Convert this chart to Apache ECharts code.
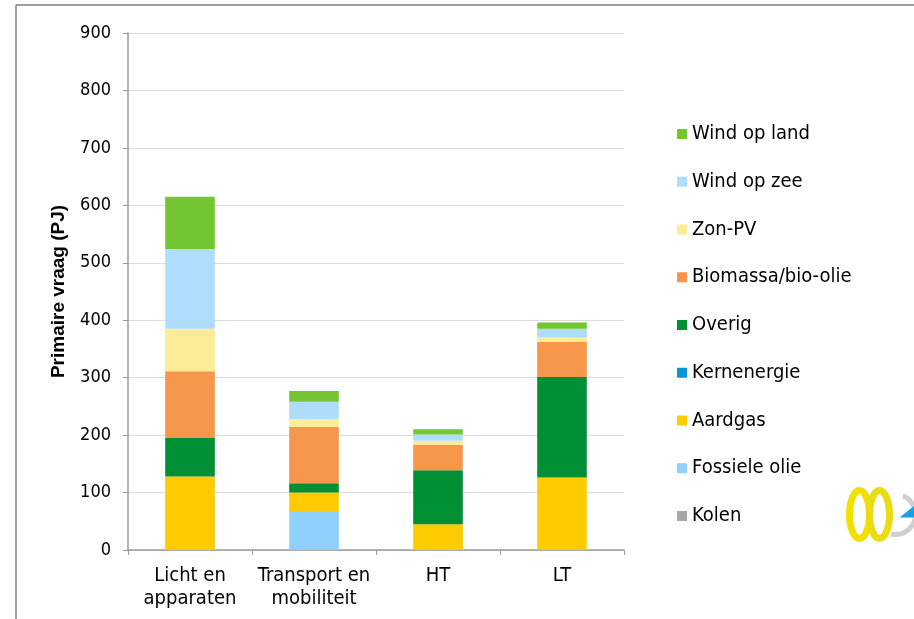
<!DOCTYPE html>
<html>
<head>
<meta charset="utf-8">
<style>
  html, body { margin: 0; padding: 0; background: #ffffff; }
  #chart { width: 914px; height: 619px; }
</style>
<script src="https://cdn.jsdelivr.net/npm/echarts@6/dist/echarts.min.js"></script>
</head>
<body>
<div id="chart"></div>
<script>
// Primaire vraag (PJ) per toepassing, gestapeld per energiedrager
const categories = ['Licht en\napparaten', 'Transport en\nmobiliteit', 'HT', 'LT'];
const yTicks = [0, 100, 200, 300, 400, 500, 600, 700, 800, 900];

const kolen        = [0, 0, 0, 0];
const fossieleOlie = [0, 68, 0, 0];
const aardgas      = [128, 32, 45, 126];
const kernenergie  = [0, 0, 0, 0];
const overig       = [67, 16, 94, 175];
const biomassa     = [116, 98, 44, 61];
const zonPV        = [74, 14, 7, 8];
const windOpZee    = [139, 30, 11, 15];
const windOpLand   = [91, 19, 9, 11];

const FONT = '"Liberation Sans Narrow", "DejaVu Sans Condensed", "Liberation Sans", sans-serif';

// bottom to top stacking order
const seriesDefs = [
  { name: 'Kolen',             data: kolen,        color: '#a6a6a6' },
  { name: 'Fossiele olie',     data: fossieleOlie, color: '#8fd1fd' },
  { name: 'Aardgas',           data: aardgas,      color: '#fecb00' },
  { name: 'Kernenergie',       data: kernenergie,  color: '#0a96d6' },
  { name: 'Overig',            data: overig,       color: '#018f33' },
  { name: 'Biomassa/bio-olie', data: biomassa,     color: '#f6964a' },
  { name: 'Zon-PV',            data: zonPV,        color: '#fdec96' },
  { name: 'Wind op zee',       data: windOpZee,    color: '#b0dcfd' },
  { name: 'Wind op land',      data: windOpLand,   color: '#73c531' }
];

const chart = echarts.init(document.getElementById('chart'), null, { renderer: 'canvas' });

chart.setOption({
  animation: false,
  backgroundColor: '#ffffff',
  textStyle: { fontFamily: FONT },
  grid: { left: 128, right: 290, top: 33, bottom: 69, containLabel: false },
  legend: {
    orient: 'vertical',
    left: 677,
    top: 124,
    padding: 0,
    itemWidth: 10,
    itemHeight: 10,
    itemGap: 27.75,
    icon: 'rect',
    data: seriesDefs.map(s => s.name).reverse(),
    textStyle: { fontFamily: FONT, fontSize: 20, color: '#000000', lineHeight: 20 }
  },
  xAxis: {
    type: 'category',
    data: categories,
    boundaryGap: true,
    axisLine: { lineStyle: { color: '#9a9a9a', width: 1.5 } },
    axisTick: { show: true, length: 5, alignWithLabel: false, lineStyle: { color: '#9a9a9a' } },
    axisLabel: { fontFamily: FONT, fontSize: 20, color: '#000000', lineHeight: 23, margin: 14, interval: 0 }
  },
  yAxis: {
    type: 'value',
    min: yTicks[0],
    max: yTicks[yTicks.length - 1],
    interval: 100,
    name: 'Primaire vraag (PJ)',
    nameLocation: 'middle',
    nameGap: 60,
    nameTextStyle: { fontFamily: '"Liberation Sans", sans-serif', fontSize: 19, fontWeight: 'bold', color: '#000000' },
    axisLine: { show: true, lineStyle: { color: '#9a9a9a', width: 1.5 } },
    axisTick: { show: true, length: 5, lineStyle: { color: '#9a9a9a' } },
    axisLabel: { fontFamily: FONT, fontSize: 18, color: '#000000', margin: 17 },
    splitLine: { show: true, lineStyle: { color: '#dcdcdc', width: 1 } }
  },
  series: seriesDefs.map(s => ({
    name: s.name,
    type: 'bar',
    stack: 'totaal',
    barWidth: '40%',
    data: s.data,
    itemStyle: { color: s.color },
    emphasis: { disabled: true }
  })),
  graphic: [
    // frame lines
    { type: 'line', shape: { x1: 16, y1: 5, x2: 914, y2: 5 }, style: { stroke: '#7f7f7f', lineWidth: 1.5 } },
    { type: 'line', shape: { x1: 16, y1: 5, x2: 16, y2: 619 }, style: { stroke: '#7f7f7f', lineWidth: 1.5 } },
    // logo
    { type: 'group', left: 846, top: 487, children: [
      { type: 'ellipse', shape: { cx: 14, cy: 27, rx: 10, ry: 24 }, style: { fill: 'none', stroke: '#f1e000', lineWidth: 7 } },
      { type: 'ellipse', shape: { cx: 34, cy: 27, rx: 10, ry: 24 }, style: { fill: 'none', stroke: '#e9dc10', lineWidth: 7 } },
      { type: 'arc', shape: { cx: 50, cy: 27, r: 20, startAngle: -1.2, endAngle: 1.8 }, style: { fill: 'none', stroke: '#cfcfcf', lineWidth: 5 } },
      { type: 'polygon', shape: { points: [[54, 30], [69, 18], [69, 30]] }, style: { fill: '#1a9fe0' } }
    ] }
  ]
});
</script>
</body>
</html>
